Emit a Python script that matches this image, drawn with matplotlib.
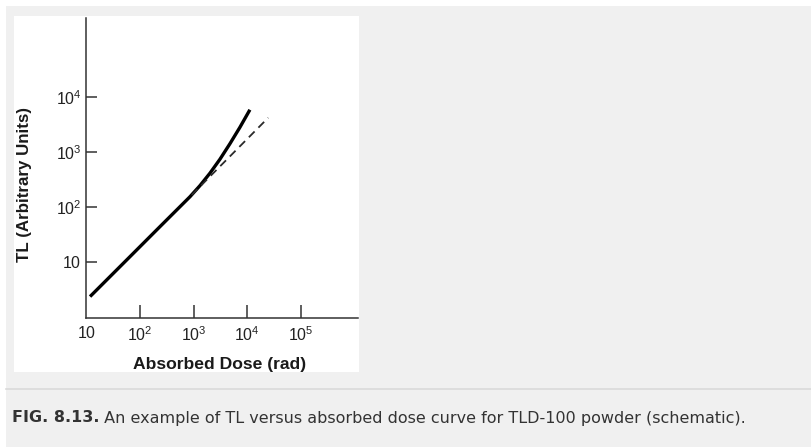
import numpy as np
import matplotlib
matplotlib.use("Agg")
import matplotlib.pyplot as plt
from matplotlib.patches import Rectangle
from matplotlib.lines import Line2D

# values (log-log)
dose_solid = [11.7, 65, 236, 857, 1316, 2023, 3110, 4775, 7345, 11270]
tl_solid = [2.30, 12.3, 43.5, 153, 244, 412, 741, 1422, 2844, 5943]
dose_linear = [923, 24770]
tl_linear = [165, 4246]

xticks = [10, 1e2, 1e3, 1e4, 1e5]
xlabels = ["$10$", "$10^2$", "$10^3$", "$10^4$", "$10^5$"]
yticks = [10, 1e2, 1e3, 1e4]
ylabels = ["$10$", "$10^2$", "$10^3$", "$10^4$"]

caption_bold = "FIG. 8.13."
caption_rest = " An example of TL versus absorbed dose curve for TLD-100 powder (schematic)."

plt.rcParams['font.family'] = ['Liberation Sans', 'DejaVu Sans']
plt.rcParams['mathtext.default'] = 'regular'

W, H = 812, 447
fig = plt.figure(figsize=(W / 100, H / 100), dpi=100)
fig.patch.set_facecolor('white')

def px(x0, y0, x1, y1):
    # pixel box (top-left origin) -> figure fraction rect
    return (x0 / W, 1 - y1 / H, (x1 - x0) / W, (y1 - y0) / H)

# page background, white panel, separator
x, y, w, h = px(6, 6, W, H)
fig.patches.append(Rectangle((x, y), w, h, transform=fig.transFigure,
                             facecolor='#f0f0f0', edgecolor='none', zorder=-3))
x, y, w, h = px(14, 16, 359, 372)
fig.patches.append(Rectangle((x, y), w, h, transform=fig.transFigure,
                             facecolor='white', edgecolor='none', zorder=-2))
fig.lines.append(Line2D([6 / W, 1], [1 - 389 / H] * 2, transform=fig.transFigure,
                        color='#dadada', lw=1.2))

ax = fig.add_axes(px(86.4, 18, 358, 318))
ax.set_facecolor('none')
ax.set_xscale('log')
ax.set_yscale('log')
ax.set_xlim(10, 10 ** 6.07)
ax.set_ylim(10 ** -0.03, 10 ** 5.45)

ax.plot(dose_solid, tl_solid, color='black', lw=2.4, solid_capstyle='butt',
        solid_joinstyle='round')
ax.plot(dose_linear, tl_linear, color='#2a2a2a', lw=1.3, dashes=(4.5, 3))

for s in ['top', 'right']:
    ax.spines[s].set_visible(False)
for s in ['left', 'bottom']:
    ax.spines[s].set_color('#333333')
    ax.spines[s].set_linewidth(1.1)

ax.set_xticks(xticks)
ax.set_xticklabels(xlabels)
ax.set_yticks(yticks)
ax.set_yticklabels(ylabels)
ax.minorticks_off()
ax.tick_params(axis='x', direction='in', length=9.5, width=1.1, color='#333333',
               labelsize=11.5, labelcolor='#222222', pad=5)
ax.tick_params(axis='y', direction='in', length=8, width=1.1, color='#333333',
               labelsize=11.5, labelcolor='#222222', pad=3.5)
# first x tick sits on the spine, hide its mark
ax.xaxis.get_major_ticks()[0].tick1line.set_visible(False)

fig.text(220 / W, 1 - 365 / H, "Absorbed Dose (rad)", ha='center', va='center',
         fontsize=12.6, fontweight='bold', color='#1a1a1a')
fig.text(25 / W, 1 - 185 / H, "TL (Arbitrary Units)", ha='center', va='center',
         rotation=90, fontsize=12.2, fontweight='bold', color='#1a1a1a')

t1 = fig.text(12 / W, 1 - 418 / H, caption_bold, ha='left', va='center',
              fontsize=11.5, fontweight='bold', color='#333333', family='DejaVu Sans')
fig.canvas.draw()
bb = t1.get_window_extent()
fig.text(bb.x1 / W, 1 - 418 / H, caption_rest, ha='left', va='center',
         fontsize=11.5, color='#333333', family='DejaVu Sans')

fig.savefig('out.png', dpi=100)
